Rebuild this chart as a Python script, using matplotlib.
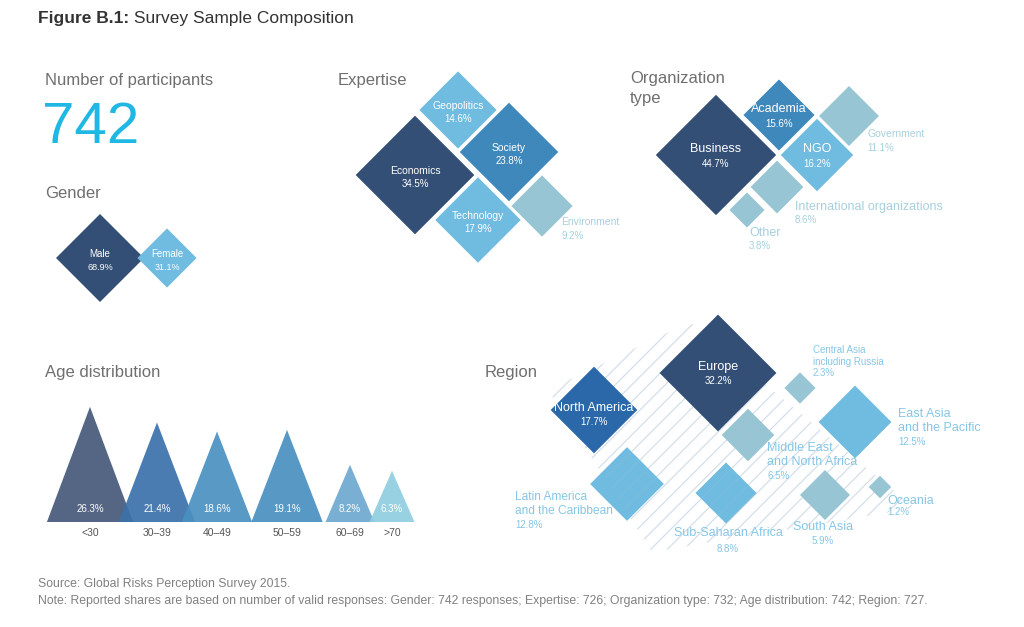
"""
Survey sample composition infographic (Figure B.1).
"""
import numpy as np
import matplotlib.pyplot as plt
from matplotlib.patches import Polygon

plt.rcParams["font.family"] = ["Liberation Sans", "DejaVu Sans"]
plt.rcParams["hatch.linewidth"] = 0.8

# ---- data ----
participants = 742

gender_labels = ["Male", "Female"]
gender_values = [68.9, 31.1]

expertise_labels = ["Economics", "Geopolitics", "Society", "Technology", "Environment"]
expertise_values = [34.5, 14.6, 23.8, 17.9, 9.2]

org_labels = ["Business", "Academia", "NGO", "Government",
              "International organizations", "Other"]
org_values = [44.7, 15.6, 16.2, 11.1, 8.6, 3.8]

age_labels = ["<30", "30–39", "40–49", "50–59", "60–69", ">70"]
age_values = [26.3, 21.4, 18.6, 19.1, 8.2, 6.3]

region_labels = ["North America", "Europe", "Central Asia\nincluding Russia",
                 "East Asia\nand the Pacific", "Middle East\nand North Africa",
                 "Latin America\nand the Caribbean", "Sub-Saharan Africa",
                 "South Asia", "Oceania"]
region_values = [17.7, 32.2, 2.3, 12.5, 6.5, 12.8, 8.8, 5.9, 1.2]

# ---- layout (pixel coordinates, y down) ----
NAVY = "#344f75"
MID = "#3f88bb"
LIGHT = "#70bbe0"
PALE = "#97c5d4"
ROYAL = "#2a68a9"
GREY = "#6f6f6f"
OUT_PALE = "#a6d0de"
OUT_BLUE = "#86c6e6"

gender_xy = [(100, 258), (167, 258)]
gender_colors = [NAVY, LIGHT]
gender_k = 5.3

expertise_xy = [(415, 175), (458, 110), (509, 152), (478, 220), (542, 206)]
expertise_colors = [NAVY, LIGHT, MID, LIGHT, PALE]
expertise_k = 10.1

org_xy = [(716, 155), (779, 115), (817, 155), (849, 116), (777, 187), (747, 210)]
org_colors = [NAVY, MID, LIGHT, PALE, PALE, PALE]
org_k = 9.0

region_xy = [(594, 410), (718, 373), (800, 388), (855, 422), (748, 435),
             (627, 484), (726, 493), (825, 495), (880, 487)]
region_colors = [ROYAL, NAVY, PALE, LIGHT, PALE, LIGHT, LIGHT, PALE, PALE]
region_z = [4, 4, 2, 2, 2, 2, 2, 2, 2]
region_k = 10.3

age_x = [90, 157, 217, 287, 350, 392]
age_base = 522
age_colors = ["#46597b", "#3a71ab", "#4a90c2", "#4a8fc0", "#6ea8cf", "#8fcfe0"]

fig = plt.figure(figsize=(10.24, 6.27), dpi=100)
ax = fig.add_axes([0, 0, 1, 1])
ax.set_xlim(0, 1024)
ax.set_ylim(627, 0)
ax.axis("off")


def diamond(center, half, color, z=2):
    cx, cy = center
    pts = [(cx, cy - half), (cx + half, cy), (cx, cy + half), (cx - half, cy)]
    ax.add_patch(Polygon(pts, closed=True, facecolor=color, edgecolor="none", zorder=z))


def inside(center, name, value, size=7.5, vsize=7, dy=(-4, 9)):
    cx, cy = center
    ax.text(cx, cy + dy[0], name, color="white", fontsize=size, ha="center", va="center", zorder=5)
    ax.text(cx, cy + dy[1], f"{value}%", color="white", fontsize=vsize, ha="center", va="center", zorder=5)


def outside(x, y, name, value, color, size=7.5, vsize=7, ha="left", gap=13):
    n = name.count("\n") + 1
    ax.text(x, y, name, color=color, fontsize=size, ha=ha, va="top", linespacing=1.25, zorder=5)
    ax.text(x, y + gap * n + 1, f"{value}%", color=color, fontsize=vsize, ha=ha, va="top", zorder=5)


# ---- titles ----
t1 = ax.text(38, 19, "Figure B.1:", fontsize=12.5, fontweight="bold", color="#333333", va="center")
ax.annotate(" Survey Sample Composition", xy=(1, 0.5), xycoords=t1, fontsize=12.5,
            color="#333333", va="center")

ax.text(45, 80, "Number of participants", fontsize=12, color=GREY, va="center")
ax.text(42, 128, str(participants), fontsize=42, color="#1fb8e4", va="center")
ax.text(45, 194, "Gender", fontsize=12, color=GREY, va="center")
ax.text(338, 80, "Expertise", fontsize=12, color=GREY, va="center")
ax.text(630, 78, "Organization", fontsize=12, color=GREY, va="center")
ax.text(630, 98, "type", fontsize=12, color=GREY, va="center")
ax.text(45, 373, "Age distribution", fontsize=12, color=GREY, va="center")
ax.text(485, 373, "Region", fontsize=12, color=GREY, va="center")

# ---- gender ----
for xy, v, c, lab in zip(gender_xy, gender_values, gender_colors, gender_labels):
    diamond(xy, gender_k * np.sqrt(v), c)
    inside(xy, lab, v, size=7, vsize=6.5)

# ---- expertise ----
for xy, v, c, lab in zip(expertise_xy, expertise_values, expertise_colors, expertise_labels):
    diamond(xy, expertise_k * np.sqrt(v), c)
    if lab == "Environment":
        outside(561, 217, lab, v, OUT_PALE)
    else:
        inside(xy, lab, v)

# ---- organization type ----
for xy, v, c, lab in zip(org_xy, org_values, org_colors, org_labels):
    diamond(xy, org_k * np.sqrt(v), c)
org_big = {"Business", "Academia", "NGO"}
for xy, v, lab in zip(org_xy, org_values, org_labels):
    if lab in org_big:
        inside(xy, lab, v, size=9, vsize=7, dy=(-6, 9))
outside(867, 129, "Government", org_values[3], OUT_PALE, size=7.5)
outside(795, 201, "International organizations", org_values[4], OUT_PALE, size=9)
outside(749, 227, "Other", org_values[5], OUT_PALE, size=9)

# ---- age distribution ----
for x, v, c, lab in zip(age_x, age_values, age_colors, age_labels):
    h = 31 + 3.2 * v
    hw = 16 + 1.03 * v
    tri = [(x - hw, age_base), (x, age_base - h), (x + hw, age_base)]
    ax.add_patch(Polygon(tri, closed=True, facecolor=c, edgecolor="none", alpha=0.92, zorder=2))
    ax.text(x, 509, f"{v}%", color="white", fontsize=7, ha="center", va="center", zorder=5)
    ax.text(x, 533, lab, color="#555555", fontsize=7.5, ha="center", va="center")

# ---- region ----
band = [(548, 390), (690, 322), (915, 508), (652, 552)]
ax.add_patch(Polygon(band, closed=True, fill=False, hatch="//", edgecolor="#dfe7ef",
                     linewidth=0, zorder=1))
for xy, v, c, z in zip(region_xy, region_values, region_colors, region_z):
    diamond(xy, region_k * np.sqrt(v), c, z=z)
ax.add_patch(Polygon(band, closed=True, fill=False, hatch="//", edgecolor="#a9c0d4",
                     linewidth=0, alpha=0.22, zorder=3))

inside(region_xy[0], region_labels[0], region_values[0], size=9, vsize=7, dy=(-2, 12))
inside(region_xy[1], region_labels[1], region_values[1], size=9, vsize=7, dy=(-6, 8))
outside(813, 345, region_labels[2], region_values[2], OUT_BLUE, size=7, vsize=7, gap=11)
outside(898, 408, region_labels[3], region_values[3], OUT_BLUE, size=9, vsize=7, gap=14)
outside(767, 442, region_labels[4], region_values[4], OUT_BLUE, size=9, vsize=7, gap=14)
outside(515, 491, region_labels[5], region_values[5], OUT_BLUE, size=8.6, vsize=7, gap=14)
outside(728, 527, region_labels[6], region_values[6], OUT_BLUE, size=9, vsize=7, ha="center", gap=16)
outside(823, 521, region_labels[7], region_values[7], OUT_BLUE, size=9, vsize=7, ha="center", gap=14)
outside(887, 495, region_labels[8], region_values[8], OUT_BLUE, size=9, vsize=7, gap=11)

# ---- footnotes ----
ax.text(38, 584, "Source: Global Risks Perception Survey 2015.", fontsize=8.8, color="#808080", va="center")
ax.text(38, 601, "Note: Reported shares are based on number of valid responses: Gender: 742 responses; "
        "Expertise: 726; Organization type: 732; Age distribution: 742; Region: 727.",
        fontsize=8.8, color="#808080", va="center")

fig.savefig("out.png", dpi=100)
plt.close(fig)
